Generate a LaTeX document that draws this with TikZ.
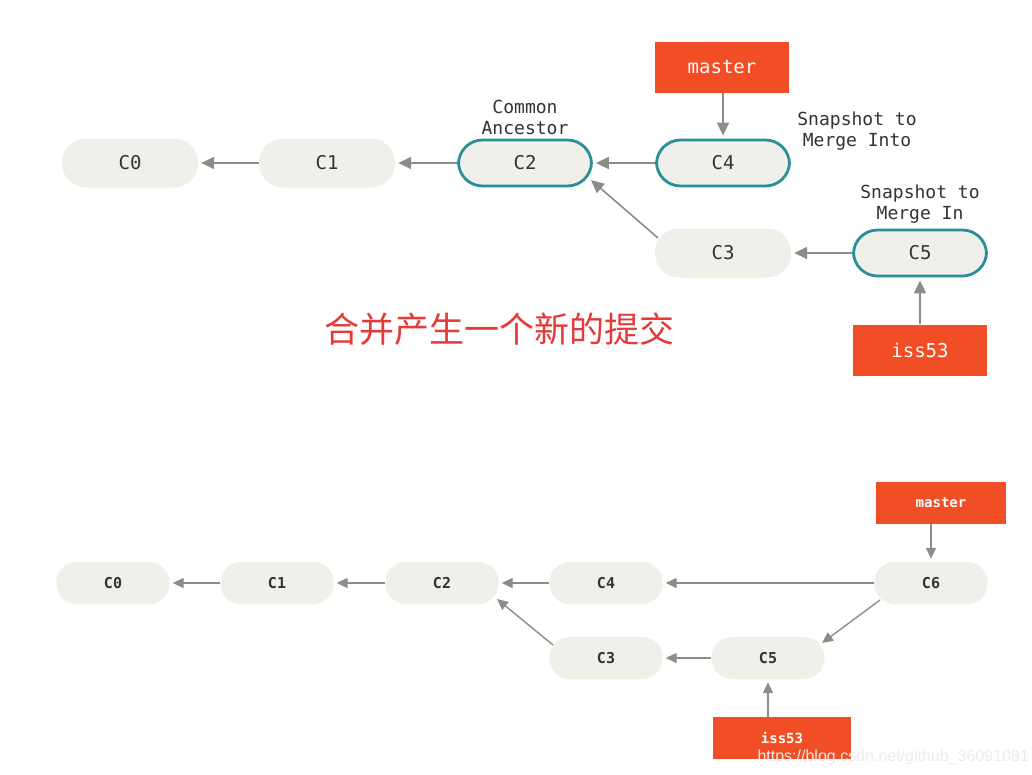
\documentclass[tikz,border=0pt]{standalone}
\usepackage{fontspec}
\setmonofont{DejaVu Sans Mono}
\setsansfont{Liberation Sans}
\newfontfamily\cjk{Noto Sans CJK SC}
\usetikzlibrary{arrows.meta,calc}
\definecolor{cfill}{HTML}{F0EFEA}
\definecolor{cteal}{HTML}{2A8F99}
\definecolor{cred}{HTML}{F24E25}
\definecolor{carrow}{HTML}{8C8C88}
\definecolor{ctext}{HTML}{333333}
\definecolor{cjkred}{HTML}{E53A3A}
\tikzset{
  commit/.style={fill=cfill, draw=none, rounded corners=#1, inner sep=0pt, text=ctext},
  bigc/.style={commit=24pt, minimum width=136pt, minimum height=49pt, font=\ttfamily\fontsize{19}{21}\selectfont},
  tealc/.style={bigc, draw=cteal, line width=2.8pt, minimum width=133pt, minimum height=46pt},
  smallc/.style={commit=20pt, minimum width=113pt, minimum height=42pt, font=\ttfamily\bfseries\fontsize{15}{17}\selectfont},
  branch/.style={fill=cred, draw=none, inner sep=0pt, text=white},
  lbl/.style={align=center, text=ctext, font=\ttfamily\fontsize{18}{21}\selectfont},
  conn/.style={draw=carrow, line width=1.6pt, -{Triangle[length=13pt,width=12pt]}, shorten >=3pt},
  sconn/.style={draw=carrow, line width=1.4pt, -{Triangle[length=11pt,width=10pt]}, shorten >=3pt}
}
\begin{document}
\begin{tikzpicture}[x=1pt,y=-1pt]
\useasboundingbox[fill=white] (0,0) rectangle (1032,774);
% top diagram
\node[bigc] (t0) at (130,163) {C0};
\node[bigc] (t1) at (327,163) {C1};
\node[tealc] (t2) at (525,163) {C2};
\node[tealc] (t4) at (723,163) {C4};
\node[bigc] (t3) at (723,253) {C3};
\node[tealc] (t5) at (920,253) {C5};
\node[branch, minimum width=134pt, minimum height=51pt, font=\ttfamily\fontsize{19}{21}\selectfont] (tm) at (722,67) {master};
\node[branch, minimum width=134pt, minimum height=51pt, font=\ttfamily\fontsize{19}{21}\selectfont] (ti) at (920,350) {iss53};
\node[lbl] (lca) at (525,117) {Common\\Ancestor};
\node[lbl] (lmi) at (857,131) {Snapshot to\\Merge Into};
\node[lbl] (lmn) at (920,204) {Snapshot to\\Merge In};
\coordinate (t3a) at (658,238);
\coordinate (t2a) at (591,180);
\draw[conn] (t1.west) -- (t0.east);
\draw[conn] (t2.west) -- (t1.east);
\draw[conn] (t4.west) -- (t2.east);
\draw[conn] (t5.west) -- (t3.east);
\draw[conn] (tm.south -| t4.north) -- (t4.north);
\draw[conn] (ti.north) -- (t5.south);
\draw[conn, shorten >=0pt] (t3a) -- (t2a);
\node[font=\cjk\fontsize{35}{38}\selectfont, text=cjkred] (cn) at (499,329) {合并产生一个新的提交};
% bottom diagram
\node[smallc] (b0) at (113,583) {C0};
\node[smallc] (b1) at (277,583) {C1};
\node[smallc] (b2) at (442,583) {C2};
\node[smallc] (b4) at (606,583) {C4};
\node[smallc] (b6) at (931,583) {C6};
\node[smallc] (b3) at (606,658) {C3};
\node[smallc] (b5) at (768,658) {C5};
\node[branch, minimum width=130pt, minimum height=42pt, font=\ttfamily\bfseries\fontsize{14}{16}\selectfont] (bm) at (941,503) {master};
\node[branch, minimum width=138pt, minimum height=42pt, font=\ttfamily\bfseries\fontsize{14}{16}\selectfont] (bi) at (782,738) {iss53};
\coordinate (b3a) at (553,645);
\coordinate (b2a) at (497,599);
\coordinate (b6a) at (880,600);
\coordinate (b5a) at (822,643);
\draw[sconn] (b1.west) -- (b0.east);
\draw[sconn] (b2.west) -- (b1.east);
\draw[sconn] (b4.west) -- (b2.east);
\draw[sconn] (b6.west) -- (b4.east);
\draw[sconn] (b5.west) -- (b3.east);
\draw[sconn, shorten >=0pt] (b3a) -- (b2a);
\draw[sconn, shorten >=0pt] (b6a) -- (b5a);
\draw[sconn] (bm.south -| b6.north) -- (b6.north);
\draw[sconn] (bi.north -| b5.south) -- (b5.south);
\node[font=\sffamily\fontsize{16}{18}\selectfont, text=white!85!gray, anchor=west] (wm) at (754,757) {https://blog.csdn.net/github\_36091081};
\end{tikzpicture}
\end{document}
